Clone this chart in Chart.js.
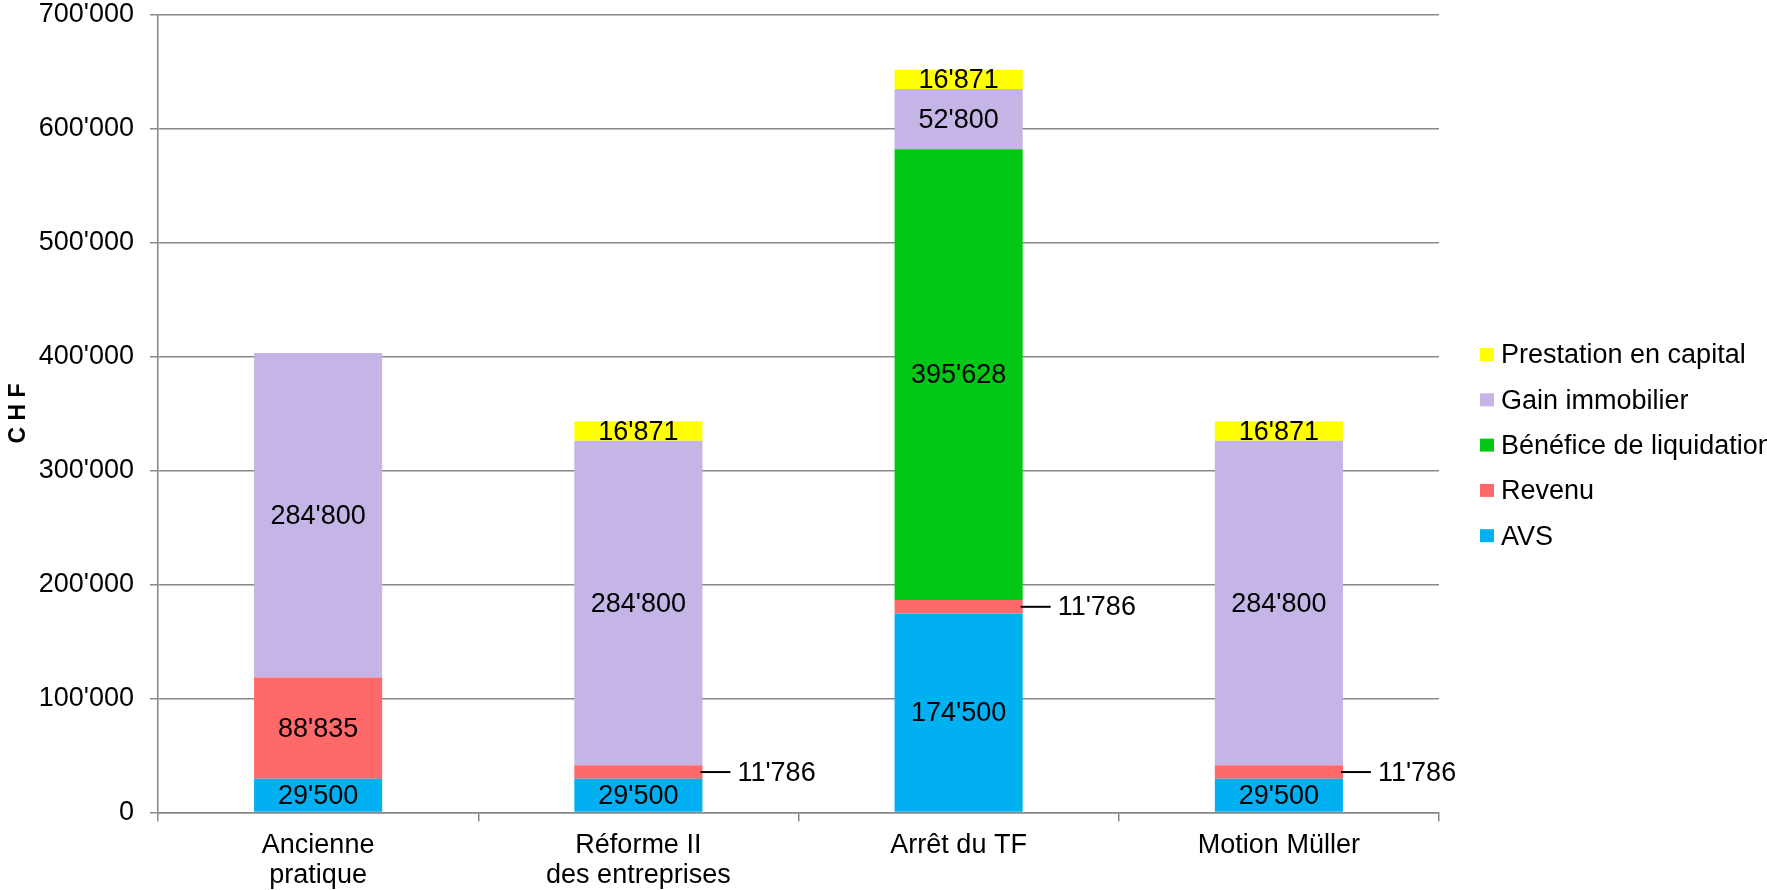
<!DOCTYPE html>
<html>
<head>
<meta charset="utf-8">
<script src="https://cdn.jsdelivr.net/npm/chart.js@4/dist/chart.umd.min.js"></script>
<style>
  html, body { margin: 0; padding: 0; background: #fff; }
  canvas { display: block; }
</style>
</head>
<body>
<canvas id="graph" width="1767" height="890"></canvas>
<script>
// Categories and series
const categories = [['Ancienne', 'pratique'], ['Réforme II', 'des entreprises'], ['Arrêt du TF'], ['Motion Müller']];
const avs = [29500, 29500, 174500, 29500];
const revenu = [88835, 11786, 11786, 11786];
const liquidation = [0, 0, 395628, 0];
const immobilier = [284800, 284800, 52800, 284800];
const prestation = [0, 16871, 16871, 16871];
const yTicks = [0, 100000, 200000, 300000, 400000, 500000, 600000, 700000];

const FONT = 'Liberation Sans, Arial, sans-serif';
const FS = 27;

// 700000 -> 700'000
function fmt(v) {
  return String(v).replace(/\B(?=(\d{3})+(?!\d))/g, "'");
}

const data = {
  labels: categories,
  datasets: [
    { label: 'AVS', data: avs, backgroundColor: '#00B0F0' },
    { label: 'Revenu', data: revenu, backgroundColor: '#FF6969' },
    { label: 'Bénéfice de liquidation', data: liquidation, backgroundColor: '#00C814' },
    { label: 'Gain immobilier', data: immobilier, backgroundColor: '#C5B4E6' },
    { label: 'Prestation en capital', data: prestation, backgroundColor: '#FFFF00' }
  ]
};

// Value labels: centred in segment, or outside with a leader line when the segment is thin
const valueLabels = {
  id: 'valueLabels',
  afterDatasetsDraw(chart) {
    const ctx = chart.ctx;
    ctx.save();
    ctx.font = FS + 'px ' + FONT;
    ctx.fillStyle = '#000';
    ctx.textBaseline = 'middle';
    chart.data.datasets.forEach((ds, di) => {
      const meta = chart.getDatasetMeta(di);
      meta.data.forEach((bar, i) => {
        const v = ds.data[i];
        if (!v) return;
        const cy = (bar.y + bar.base) / 2;
        const h = Math.abs(bar.base - bar.y);
        if (h < 16) {
          const right = bar.x + bar.width / 2;
          ctx.strokeStyle = '#000';
          ctx.lineWidth = 2;
          ctx.beginPath();
          ctx.moveTo(right - 2, cy);
          ctx.lineTo(right + 28, cy);
          ctx.stroke();
          ctx.textAlign = 'left';
          ctx.fillText(fmt(v), right + 35, cy + 1);
        } else {
          ctx.textAlign = 'center';
          ctx.fillText(fmt(v), bar.x, cy + 1);
        }
      });
    });
    ctx.restore();
  }
};

// Legend on the right, top item = last dataset
const sideLegend = {
  id: 'sideLegend',
  afterDraw(chart) {
    const ctx = chart.ctx;
    ctx.save();
    ctx.font = FS + 'px ' + FONT;
    ctx.textAlign = 'left';
    ctx.textBaseline = 'middle';
    const items = chart.data.datasets.slice().reverse();
    items.forEach((ds, k) => {
      const y = 355 + k * 45.3;
      ctx.fillStyle = ds.backgroundColor;
      ctx.fillRect(1480, y - 7, 14, 13);
      ctx.fillStyle = '#000';
      ctx.fillText(ds.label, 1501, y + 1);
    });
    ctx.restore();
  }
};

const config = {
  type: 'bar',
  data: data,
  options: {
    responsive: false,
    animation: false,
    layout: { padding: { left: 0, right: 328, top: 14.6, bottom: 0 } },
    datasets: {
      bar: { categoryPercentage: 1, barPercentage: 0.4 }
    },
    plugins: {
      legend: { display: false },
      tooltip: { enabled: false }
    },
    scales: {
      x: {
        stacked: true,
        afterFit: (s) => { s.height = 77.6; s.paddingLeft = 0; s.paddingRight = 0; },
        grid: {
          offset: true,
          drawOnChartArea: false,
          drawTicks: true,
          tickLength: 9,
          color: '#888',
          lineWidth: 1.5
        },
        border: { display: true, color: '#888', width: 1.5 },
        ticks: {
          color: '#000',
          padding: 9,
          maxRotation: 0,
          autoSkip: false,
          font: { family: FONT, size: FS, lineHeight: 1.12 }
        }
      },
      y: {
        stacked: true,
        min: 0,
        max: 700000,
        afterFit: (s) => { s.width = 158; s.paddingTop = 0; s.paddingBottom = 0; },
        afterBuildTicks: (s) => { s.ticks = yTicks.map(v => ({ value: v })); },
        grid: {
          color: '#888',
          lineWidth: 1.5,
          drawTicks: true,
          tickLength: 8
        },
        border: { display: true, color: '#888', width: 1.5 },
        ticks: {
          color: '#000',
          padding: 16,
          font: { family: FONT, size: FS },
          callback: (v) => fmt(v)
        },
        title: {
          display: true,
          text: 'C H F',
          color: '#000',
          padding: { top: 5, bottom: 0 },
          font: { family: FONT, size: 23, weight: 'bold' }
        }
      }
    }
  },
  plugins: [valueLabels, sideLegend]
};

const myChart = new Chart(document.getElementById('graph').getContext('2d'), config);
</script>
</body>
</html>
